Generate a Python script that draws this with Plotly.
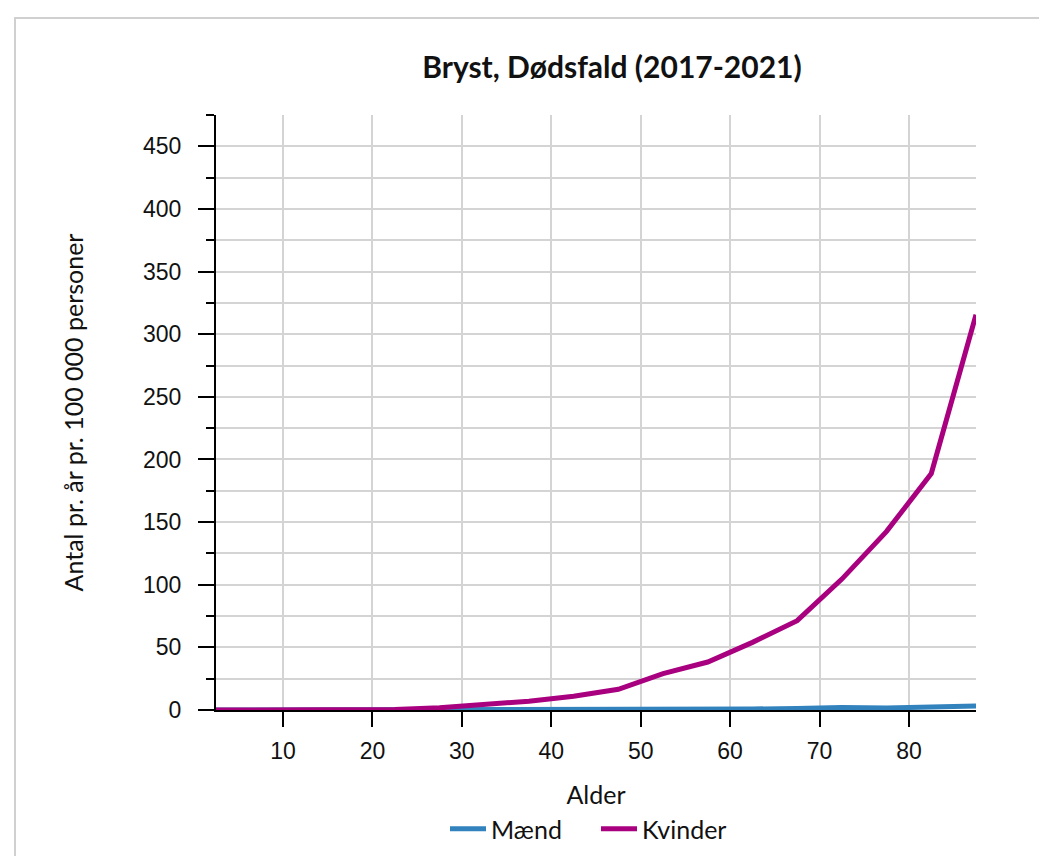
import plotly.graph_objects as go

# ── Data ──────────────────────────────────────────────────────
alder = [2.5, 7.5, 12.5, 17.5, 22.5, 27.5, 32.5, 37.5, 42.5,
         47.5, 52.5, 57.5, 62.5, 67.5, 72.5, 77.5, 82.5, 87.5]
maend = [0, 0, 0, 0, 0, 0, 0.1, 0.1, 0.2,
         0.3, 0.5, 0.7, 0.8, 1.2, 2.0, 1.6, 2.7, 3.2]
kvinder = [0, 0, 0, 0, 0.3, 1.8, 4.2, 7.0, 11.0,
           16.5, 29.0, 38.3, 54.0, 71.3, 104.5, 142.6, 188.8, 315.5]

BLAA = "#3182bd"
MAGENTA = "#a8007f"
GRID = "#d4d4d4"
SANS = "Lato, 'Open Sans', sans-serif"
TICKF = "'Liberation Sans', Arial, sans-serif"

# plotområdet i pixels (siden har 8px body-margen)
L, T, W, H = 208, 107, 760, 601

fig = go.Figure()
fig.add_trace(go.Scatter(x=alder, y=maend, name="Mænd", mode="lines",
                         line=dict(color=BLAA, width=5)))
fig.add_trace(go.Scatter(x=alder, y=kvinder, name="Kvinder", mode="lines",
                         line=dict(color=MAGENTA, width=5)))

fig.update_layout(
    width=1047, height=856,
    margin=dict(l=L, r=1047 - L - W, t=T, b=856 - T - H),
    paper_bgcolor="white", plot_bgcolor="white",
    font=dict(family=SANS, color="#111", size=25),
    title=dict(text="<b>Bryst, Dødsfald (2017-2021)</b>",
               xref="container", x=604 / 1047, xanchor="center",
               yref="container", y=1 - 59 / 856, yanchor="middle",
               font=dict(family=SANS, size=30, color="#111")),
    legend=dict(orientation="h", x=0.5, xanchor="center",
                y=-0.2, yanchor="middle", entrywidth=100, itemwidth=36,
                font=dict(family=SANS, size=25)),
    xaxis=dict(
        range=[2.5, 87.5], tickvals=[10, 20, 30, 40, 50, 60, 70, 80],
        showline=True, linecolor="black", linewidth=2,
        ticks="outside", ticklen=15, tickwidth=2, tickcolor="black",
        ticklabelstandoff=4,
        showgrid=True, gridcolor=GRID, gridwidth=2, zeroline=False,
        tickfont=dict(family=TICKF, size=23, color="#111"),
        title=dict(text="Alder", standoff=24, font=dict(family=SANS, size=25)),
    ),
    yaxis=dict(
        range=[0, 475], dtick=50, tick0=0,
        showline=True, linecolor="black", linewidth=2,
        ticks="outside", ticklen=16, tickwidth=2, tickcolor="black",
        ticklabelstandoff=12,
        showgrid=True, gridcolor=GRID, gridwidth=2, zeroline=False,
        tickfont=dict(family=TICKF, size=23, color="#111"),
        minor=dict(dtick=25, tick0=0, ticks="outside", ticklen=8, tickwidth=2,
                   tickcolor="black", showgrid=True, gridcolor=GRID, gridwidth=2),
        title=dict(text="Antal pr. år pr. 100 000 personer", standoff=52,
                   font=dict(family=SANS, size=25)),
    ),
    shapes=[dict(type="rect", xref="paper", yref="paper",
                 x0=(7 - L) / W, x1=1.5, y0=-0.6, y1=(T + H - 9) / H,
                 line=dict(color="#d0d0d0", width=2), layer="below")],
)

fig.write_html("out.html")
